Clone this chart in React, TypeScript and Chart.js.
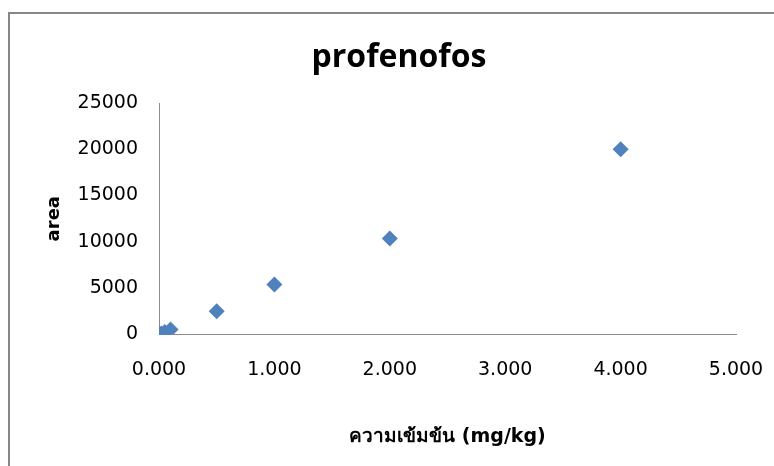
import React, { useEffect, useRef } from "react";
import { Chart, registerables } from "chart.js";

Chart.register(...registerables);

// Concentration (mg/kg) and measured peak area for profenofos
const concentration = [0, 0.02, 0.05, 0.1, 0.5, 1, 2, 4];
const area = [0, 100, 260, 520, 2500, 5400, 10350, 20000];

const chartTitle = "profenofos";
const xAxisTitle = "ความเข้มข้น (mg/kg)";
const yAxisTitle = "area";

const W = 798;
const H = 466;

// White background, the grey frame on the left and top edges, and the chart title
const frame = {
  id: "frame",
  beforeDraw(chart: Chart) {
    const ctx = chart.ctx;
    ctx.save();
    ctx.fillStyle = "#ffffff";
    ctx.fillRect(0, 0, chart.width, chart.height);
    ctx.strokeStyle = "#878787";
    ctx.lineWidth = 2;
    ctx.beginPath();
    ctx.moveTo(9, chart.height + 2);
    ctx.lineTo(9, 13);
    ctx.lineTo(chart.width + 2, 13);
    ctx.stroke();
    ctx.fillStyle = "#000000";
    ctx.font = "bold 32px 'Open Sans', sans-serif";
    ctx.textAlign = "center";
    ctx.textBaseline = "alphabetic";
    ctx.fillText(chartTitle, 399, 67);
    ctx.restore();
  },
};

export default function App() {
  const ref = useRef<HTMLCanvasElement | null>(null);

  useEffect(() => {
    document.documentElement.style.overflow = "hidden";
    document.body.style.margin = "0";
    document.body.style.overflow = "hidden";
    if (!ref.current) return;
    const font = "'DejaVu Sans', 'Noto Sans', sans-serif";
    const chart = new Chart(ref.current, {
      type: "scatter",
      data: {
        datasets: [
          {
            label: "area",
            data: concentration.map((x, i) => ({ x, y: area[i] })),
            pointStyle: "rectRot",
            pointRadius: 8,
            pointHoverRadius: 8,
            pointBackgroundColor: "#4f81bd",
            pointBorderWidth: 0,
            borderWidth: 0,
          },
        ],
      },
      plugins: [frame],
      options: {
        responsive: false,
        animation: false,
        layout: { padding: { top: 103, left: 10, right: 62, bottom: 0 } },
        plugins: {
          legend: { display: false },
          tooltip: { enabled: false },
          title: { display: false },
        },
        scales: {
          x: {
            type: "linear",
            min: 0,
            max: 5,
            grid: { display: false, drawTicks: false },
            border: { display: true, color: "#8c8c8c", width: 1 },
            ticks: {
              stepSize: 1,
              padding: 24,
              color: "#000000",
              font: { family: font, size: 19, lineHeight: 1.2 },
              callback: (v) => Number(v).toFixed(3),
            },
            title: {
              display: true,
              text: xAxisTitle,
              color: "#000000",
              font: { family: font, size: 19, weight: "bold", lineHeight: 1.2 },
              padding: { top: 20, bottom: 18 },
            },
          },
          y: {
            type: "linear",
            min: 0,
            max: 25000,
            grid: { display: false, drawTicks: false },
            border: { display: true, color: "#8c8c8c", width: 1 },
            ticks: {
              stepSize: 5000,
              padding: 21,
              color: "#000000",
              font: { family: font, size: 19 },
              callback: (v) => String(v),
            },
            title: {
              display: true,
              text: yAxisTitle,
              color: "#000000",
              font: { family: font, size: 18, weight: "bold", lineHeight: 1.2 },
              padding: { top: 34, bottom: 0 },
            },
            afterFit: (s: any) => {
              s.width = 149;
            },
          },
        },
      },
    });
    return () => chart.destroy();
  }, []);

  return (
    <div style={{ position: "fixed", left: 0, top: 0, width: W, height: H }}>
      <canvas ref={ref} width={W} height={H} />
    </div>
  );
}
